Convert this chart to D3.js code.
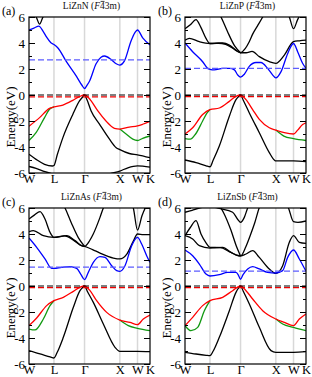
<!DOCTYPE html>
<html><head><meta charset="utf-8">
<script src="https://cdn.jsdelivr.net/npm/d3@7"></script>
<style>body{margin:0;background:#fff}svg{display:block}text{font-family:"Liberation Serif","DejaVu Serif",serif}</style>
</head><body><svg id="c" width="312" height="377"></svg>
<script>
// k-path
const kNames = ["W","L","Γ","X","W","K"];
const kPos = [0, 0.707, 1.573, 2.573, 3.073, 3.427];
const yMajor = [-6,-4,-2,0,2,4,6];
const yMinor = [-5,-3,-1,1,3,5];
const compounds = ["LiZnN","LiZnP","LiZnAs","LiZnSb"];
const letters = ["(a)","(b)","(c)","(d)"];
const cbmLevels = [2.7, 2.05, 1.45, 1.15];
const vbmLevels = [-0.15, -0.13, -0.13, -0.13];

// Panel (a) LiZnN
const blueA = [[0,5.0],[0.14,5.15],[0.28,5.3],[0.4,4.9],[0.5,4.45],[0.62,4.02],[0.707,3.88],[0.82,3.62],[1.05,2.6],[1.34,1.45],[1.5,0.75],[1.573,0.5],[1.65,0.78],[1.72,1.1],[1.9,2.4],[2.04,2.9],[2.14,3.0],[2.33,2.72],[2.47,2.4],[2.573,2.3],[2.7,2.6],[2.89,4.15],[3.0,4.8],[3.073,5.0],[3.22,4.4],[3.427,3.85]];
const blackA_top = [[0.12,6.5],[0.22,5.9],[0.3,5.45],[0.38,5.9],[0.48,6.5]];
const redA = [[0,-2.4],[0.3,-1.74],[0.58,-1.03],[0.707,-0.92],[0.96,-0.77],[1.24,-0.41],[1.43,-0.12],[1.573,0],[1.7,-0.25],[1.76,-0.46],[1.95,-1.23],[2.18,-2.0],[2.42,-2.56],[2.573,-2.62],[2.84,-2.47],[3.073,-2.38],[3.22,-2.25],[3.427,-2.02]];
const greenA_WL = [[0,-3.5],[0.2,-2.9],[0.44,-1.74],[0.58,-1.1],[0.707,-0.92]];
const greenA_XK = [[2.573,-2.62],[2.75,-3.0],[2.94,-3.4],[3.073,-3.5],[3.22,-3.33],[3.427,-3.15]];
const blackVA = [[0,-4.56],[0.2,-4.95],[0.44,-5.33],[0.66,-5.46],[0.707,-5.42],[0.8,-4.6],[0.96,-3.28],[1.24,-1.5],[1.43,-0.46],[1.52,-0.15],[1.573,0],[1.64,-0.35],[1.76,-1.23],[2.0,-2.26],[2.28,-3.4],[2.47,-4.05],[2.573,-4.2],[2.84,-4.5],[3.073,-4.6],[3.427,-4.82]];
const blackLowA = [[0,-5.5],[0.2,-5.65],[0.45,-5.9],[0.707,-6.1],[1.2,-6.4],[1.573,-6.5],[2.0,-6.3],[2.3,-6.05],[2.573,-5.85],[2.8,-5.6],[3.073,-5.45],[3.427,-5.55]];

// Panel (b) LiZnP
const blueB = [[0,4.0],[0.217,3.33],[0.5,2.56],[0.64,2.05],[0.707,1.98],[0.83,1.93],[1.07,2.05],[1.26,2.05],[1.4,1.93],[1.49,1.55],[1.573,1.37],[1.68,1.6],[1.82,2.2],[2.01,2.5],[2.15,2.5],[2.34,2.05],[2.48,1.55],[2.573,1.32],[2.72,1.8],[2.91,3.2],[3.073,3.96],[3.19,3.33],[3.33,2.44],[3.427,2.05]];
const blackB1 = [[0,4.22],[0.123,4.35],[0.406,4.1],[0.707,3.96],[1.067,4.0],[1.256,3.84],[1.444,3.45],[1.573,3.25],[1.728,3.25],[1.9,3.35],[2.105,2.95],[2.388,2.56],[2.573,2.44],[2.813,3.07],[3.073,4.1],[3.238,4.17],[3.427,4.22]];
const blackB2 = [[0,5.1],[0.15,5.4],[0.31,5.8],[0.45,5.2],[0.595,4.35],[0.707,3.96],[0.95,3.98],[1.15,3.9],[1.35,3.6],[1.5,3.33],[1.573,3.25],[1.7,3.55],[1.82,4.1],[1.92,4.7],[2.05,5.3],[2.2,6.0],[2.35,6.8],[2.573,7.2],[2.8,6.8],[2.955,6.0],[3.073,5.1],[3.19,5.8],[3.3,6.3],[3.427,6.6]];
const blackB3 = [[0.6,7.6],[0.8,7.0],[1.02,6.0],[1.2,4.9],[1.4,3.8],[1.573,3.25]];
const redB = [[0,-3.0],[0.217,-2.52],[0.5,-1.5],[0.707,-1.12],[0.972,-1.0],[1.256,-0.49],[1.444,-0.1],[1.573,0],[1.728,-0.36],[1.916,-1.12],[2.105,-1.88],[2.388,-2.52],[2.573,-2.7],[2.813,-2.9],[3.073,-3.0],[3.191,-2.7],[3.332,-2.27],[3.427,-2.14]];
const greenB_WL = [[0,-3.35],[0.15,-3.4],[0.3,-3.0],[0.5,-2.0],[0.62,-1.4],[0.707,-1.12]];
const greenB_XK = [[2.573,-2.7],[2.8,-3.16],[3.073,-3.36],[3.427,-3.5]];
const blackVB = [[0,-5.0],[0.312,-5.2],[0.6,-5.45],[0.707,-5.52],[0.8,-5.0],[0.972,-3.92],[1.256,-1.63],[1.444,-0.36],[1.52,-0.12],[1.573,0],[1.65,-0.4],[1.822,-1.38],[2.105,-2.9],[2.388,-4.43],[2.53,-5.0],[2.573,-5.07],[3.073,-5.07],[3.427,-5.12]];

// Panel (c) LiZnAs
const blueC = [[0,3.69],[0.217,2.97],[0.453,2.08],[0.642,1.36],[0.707,1.36],[0.925,1.44],[1.161,1.49],[1.35,1.36],[1.473,0.87],[1.573,0.49],[1.68,1.05],[1.822,1.82],[2.011,2.26],[2.152,2.2],[2.341,1.56],[2.483,1.18],[2.573,1.13],[2.719,1.56],[2.908,3.1],[3.073,3.74],[3.191,3.23],[3.332,2.33],[3.427,1.82]];
const blackC1 = [[0,4.18],[0.123,4.26],[0.406,3.87],[0.707,3.74],[1.067,3.87],[1.303,3.49],[1.492,3.1],[1.573,3.05],[1.8,2.8],[2.0,2.55],[2.39,2.15],[2.573,2.08],[2.77,2.45],[2.955,3.45],[3.073,4.0],[3.238,3.95],[3.427,3.95]];
const blackC2 = [[0,5.15],[0.15,5.45],[0.312,5.72],[0.453,5.15],[0.595,4.13],[0.707,3.74],[1.0,3.85],[1.25,3.55],[1.45,3.15],[1.573,3.05],[1.72,3.5],[1.82,4.0],[2.011,5.28],[2.105,6.0],[2.3,7.0],[2.573,7.3],[2.8,6.8],[2.955,6.0],[3.073,4.3],[3.2,5.4],[3.332,6.2],[3.427,6.5]];
const blackC3 = [[0.6,7.6],[0.8,7.0],[1.02,6.0],[1.2,4.85],[1.4,3.7],[1.573,3.05]];
const redC = [[0,-3.05],[0.217,-2.46],[0.5,-1.51],[0.707,-1.13],[0.972,-0.87],[1.256,-0.41],[1.45,-0.08],[1.573,0],[1.728,-0.36],[1.916,-1.13],[2.2,-2.03],[2.573,-2.62],[2.86,-2.8],[3.073,-2.97],[3.238,-2.54],[3.427,-2.23]];
const greenC_WL = [[0,-3.31],[0.17,-3.38],[0.406,-2.54],[0.595,-1.51],[0.707,-1.13]];
const greenC_XK = [[2.573,-2.62],[2.813,-3.05],[3.073,-3.26],[3.427,-3.44]];
const blackVC = [[0,-4.97],[0.312,-5.23],[0.6,-5.45],[0.707,-5.54],[0.8,-5.1],[0.972,-3.95],[1.256,-1.64],[1.444,-0.36],[1.52,-0.12],[1.573,0],[1.65,-0.4],[1.822,-1.26],[2.105,-2.92],[2.436,-4.72],[2.573,-5.03],[3.073,-5.03],[3.427,-5.05]];

// Panel (d) LiZnSb
const blueD = [[0,2.77],[0.217,2.33],[0.406,1.69],[0.595,0.92],[0.707,0.77],[0.972,0.87],[1.208,1.05],[1.444,1.05],[1.5,0.9],[1.573,0.52],[1.64,0.85],[1.775,1.31],[1.916,1.49],[2.105,1.31],[2.341,1.05],[2.573,1.0],[2.766,1.18],[2.908,2.2],[3.073,2.77],[3.238,2.08],[3.427,1.13]];
const blackD1 = [[0,3.87],[0.217,3.62],[0.406,3.1],[0.707,2.92],[1.067,2.97],[1.303,2.59],[1.492,2.33],[1.573,2.31],[1.728,2.46],[1.916,2.72],[2.105,2.2],[2.388,1.31],[2.573,0.97],[2.766,1.56],[2.955,3.36],[3.073,3.87],[3.238,3.36],[3.427,3.28]];
const blackD2 = [[0,3.87],[0.15,4.5],[0.312,5.03],[0.453,4.0],[0.6,3.3],[0.707,2.97],[1.0,2.95],[1.25,2.65],[1.45,2.4],[1.573,2.31],[1.72,3.0],[1.85,3.9],[1.98,4.9],[2.1,6.0],[2.3,7.0],[2.573,7.2],[2.8,6.6],[2.93,6.0],[3.073,4.95],[3.2,4.9],[3.427,5.0]];
const blackD3 = [[0,5.67],[0.2,5.82],[0.406,6.0],[0.707,6.1],[1.0,5.95],[1.35,5.67],[1.5,5.1],[1.573,4.9],[1.68,5.28],[1.775,6.0],[1.9,6.6]];
const blackD4 = [[0.95,6.3],[1.1,5.6],[1.3,4.3],[1.45,3.1],[1.573,2.31]];
const redD = [[0,-3.05],[0.217,-2.41],[0.5,-1.51],[0.707,-1.13],[1.067,-0.87],[1.35,-0.36],[1.573,0],[1.728,-0.36],[1.916,-1.0],[2.2,-1.9],[2.573,-2.54],[2.813,-2.8],[3.073,-3.05],[3.238,-2.54],[3.427,-2.15]];
const greenD_WL = [[0,-3.05],[0.17,-3.44],[0.36,-3.18],[0.548,-1.9],[0.707,-1.13]];
const greenD_XK = [[2.573,-2.54],[2.766,-2.92],[3.073,-3.18],[3.427,-3.44]];
const blackVD = [[0,-5.1],[0.312,-5.23],[0.6,-5.33],[0.707,-5.36],[0.8,-5.0],[0.972,-3.95],[1.256,-1.9],[1.444,-0.49],[1.52,-0.15],[1.573,0],[1.65,-0.4],[1.822,-1.38],[2.105,-3.18],[2.436,-4.97],[2.573,-5.1],[3.073,-5.1],[3.427,-5.05]];

const panels = [
  {black:[blackA_top, blackVA, blackLowA], green:[greenA_WL, greenA_XK], red:redA, blue:blueA},
  {black:[blackB1, blackB2, blackB3, blackVB], green:[greenB_WL, greenB_XK], red:redB, blue:blueB},
  {black:[blackC1, blackC2, blackC3, blackVC], green:[greenC_WL, greenC_XK], red:redC, blue:blueC},
  {black:[blackD1, blackD2, blackD3, blackD4, blackVD], green:[greenD_WL, greenD_XK], red:redD, blue:blueD}
];

const svg = d3.select("#c");
const PW = 121, PH = 156;
const boxes = [[29,17],[185,17],[29,208],[185,208]];
const defs = svg.append("defs");

panels.forEach((p, i) => {
  const [x0, y0] = boxes[i];
  const x = d3.scaleLinear().domain([0, kPos[kPos.length-1]]).range([x0, x0+PW]);
  const y = d3.scaleLinear().domain([-6, 6]).range([y0+PH, y0]);
  defs.append("clipPath").attr("id", "clip"+i).append("rect")
    .attr("x", x0).attr("y", y0).attr("width", PW).attr("height", PH);
  const g = svg.append("g");
  const plot = g.append("g").attr("clip-path", `url(#clip${i})`);

  plot.selectAll("line.vl").data(kPos.slice(1, -1)).enter().append("line")
    .attr("x1", d => x(d)).attr("x2", d => x(d)).attr("y1", y0).attr("y2", y0+PH)
    .attr("stroke", "#d8d8d8").attr("stroke-width", 1.5);

  const line = d3.line().x(d => x(d[0])).y(d => y(d[1])).curve(d3.curveMonotoneX);
  const draw = (data, color) => plot.append("path").attr("d", line(data))
    .attr("fill", "none").attr("stroke", color).attr("stroke-width", 1.3);
  p.black.forEach(b => draw(b, "#000"));
  p.green.forEach(b => draw(b, "#119911"));
  draw(p.red, "#ff0000");
  draw(p.blue, "#0000ff");

  const hdash = (v, color) => plot.append("line")
    .attr("x1", x0).attr("x2", x0+PW).attr("y1", y(v)).attr("y2", y(v))
    .attr("stroke", color).attr("stroke-width", 1.2).attr("stroke-dasharray", "6,3");
  hdash(cbmLevels[i], "#5c5cff");
  hdash(0, "#000");
  hdash(vbmLevels[i], "#ee0000");

  // axes
  const ax = (gen, vals, size, labels) => {
    const a = g.append("g").call(gen(y).tickValues(vals).tickSizeInner(-size).tickSizeOuter(0).tickPadding(4)
      .tickFormat(labels ? (d => String(d)) : () => ""));
    a.select(".domain").remove();
    a.selectAll("text").attr("font-family", "Liberation Serif, serif").attr("font-size", 13).attr("fill", "#000");
    a.selectAll("line").attr("stroke", "#000");
    return a;
  };
  ax(d3.axisLeft, yMajor, 6, true).attr("transform", `translate(${x0},0)`);
  ax(d3.axisLeft, yMinor, 3, false).attr("transform", `translate(${x0},0)`);
  ax(d3.axisRight, yMajor, 6, false).attr("transform", `translate(${x0+PW},0)`);
  ax(d3.axisRight, yMinor, 3, false).attr("transform", `translate(${x0+PW},0)`);

  const xa = g.append("g").attr("transform", `translate(0,${y0+PH})`)
    .call(d3.axisBottom(x).tickValues(kPos).tickSize(0).tickPadding(1).tickFormat((d, j) => kNames[j]));
  xa.select(".domain").remove();
  xa.selectAll("text").attr("font-family", "Liberation Serif, serif").attr("font-size", 12.5).attr("fill", "#000");

  g.append("rect").attr("x", x0).attr("y", y0).attr("width", PW).attr("height", PH)
    .attr("fill", "none").attr("stroke", "#000").attr("stroke-width", 1.2);

  // title with overbar on the 4
  const ty = y0 - 8;
  const t = g.append("text").attr("x", x0 + PW/2 + 2).attr("y", ty)
    .attr("text-anchor", "middle").attr("font-size", 9.5).attr("fill", "#111");
  t.append("tspan").text(compounds[i] + " (");
  t.append("tspan").attr("font-style", "italic").text("F");
  t.append("tspan").text("43m)");
  const idx = compounds[i].length + 3;
  const s = t.node().getStartPositionOfChar(idx), e = t.node().getEndPositionOfChar(idx);
  g.append("line").attr("x1", s.x + 0.5).attr("x2", e.x - 0.3).attr("y1", ty - 7.6).attr("y2", ty - 7.6)
    .attr("stroke", "#111").attr("stroke-width", 0.8);

  g.append("text").attr("x", x0 - 27).attr("y", y0 - 2).attr("font-size", 12).attr("fill", "#000").text(letters[i]);

  g.append("text").attr("transform", `translate(${x0 - 14},${y0 + 100}) rotate(-90)`)
    .attr("text-anchor", "middle").attr("font-size", 13).attr("fill", "#000").text("Energy(eV)");
});
</script></body></html>
